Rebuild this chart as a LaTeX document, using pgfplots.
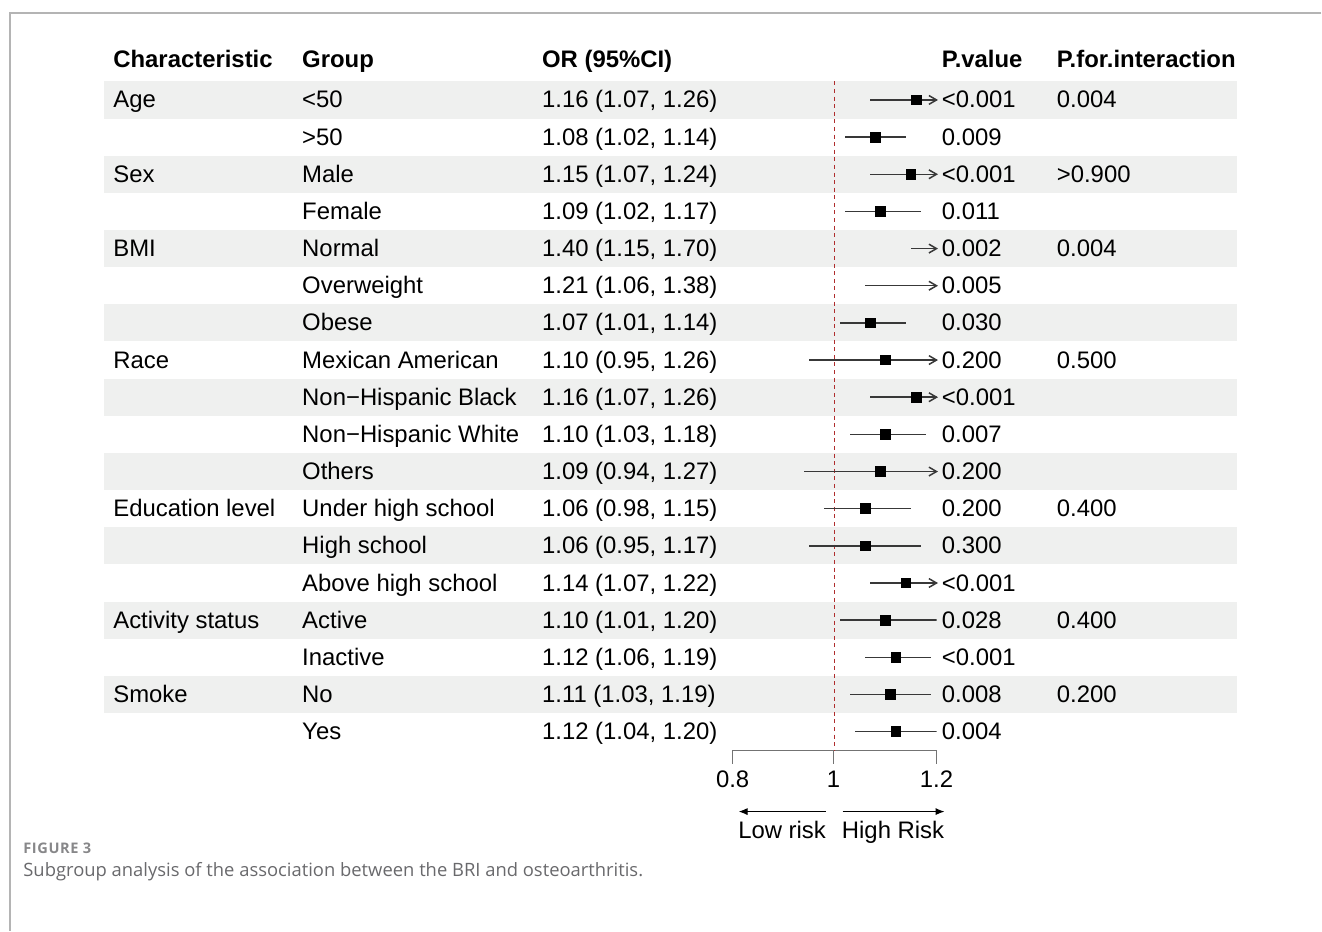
\documentclass[border=0pt]{standalone}
\usepackage{pgfplots}
\pgfplotsset{compat=1.18}
\usepackage{pgfplotstable}
\usetikzlibrary{arrows.meta}
\usepackage{fontspec}
\setmainfont{Liberation Sans}
\newfontfamily\capfont{Open Sans}
\newfontfamily\capfontsp[LetterSpace=4]{Open Sans}
\definecolor{band}{RGB}{239,240,239}
\definecolor{refred}{RGB}{175,45,45}
\definecolor{framegray}{RGB}{180,180,180}
\definecolor{capgray}{RGB}{105,105,108}

\pgfplotstableread{
row or lo hi
1 1.16 1.07 1.26
2 1.08 1.02 1.14
3 1.15 1.07 1.24
4 1.09 1.02 1.17
5 1.40 1.15 1.70
6 1.21 1.06 1.38
7 1.07 1.01 1.14
8 1.10 0.95 1.26
9 1.16 1.07 1.26
10 1.10 1.03 1.18
11 1.09 0.94 1.27
12 1.06 0.98 1.15
13 1.06 0.95 1.17
14 1.14 1.07 1.22
15 1.10 1.01 1.20
16 1.12 1.06 1.19
17 1.11 1.03 1.19
18 1.12 1.04 1.20
}\fdata

\pgfdeclareplotmark{chev}{%
  \pgfpathmoveto{\pgfpoint{-3.8pt}{2.2pt}}%
  \pgfpathlineto{\pgfpoint{0pt}{0pt}}%
  \pgfpathlineto{\pgfpoint{-3.8pt}{-2.2pt}}%
  \pgfusepathqstroke}

\newcommand\rowtext[6]{%
  \pgfmathsetmacro\yb{108+(#1-1)*37.18}%
  \node[anchor=base west,inner sep=0] at (113,\yb) {#2};
  \node[anchor=base west,inner sep=0] at (302,\yb) {#3};
  \node[anchor=base west,inner sep=0] at (542,\yb) {#4};
  \node[anchor=base west,inner sep=0] at (942,\yb) {#5};
  \node[anchor=base west,inner sep=0] at (1057,\yb) {#6};
}

\begin{document}
\begin{tikzpicture}[font=\fontsize{11.95}{14}\selectfont]
\begin{scope}[x=0.5pt,y=-0.5pt]
  \path (0,0) rectangle (1322,931);
  \draw[framegray, line width=0.7pt] (1322,13) -- (10,13) -- (10,931);
  \foreach \i in {1,3,...,17}{
    \fill[band] (104,{100+(\i-1)*37.18-18.59}) rectangle (1238,{100+(\i-1)*37.18+18.59});
  }
  % header
  \node[anchor=base west,inner sep=0,font=\fontsize{11.95}{14}\selectfont\bfseries] at (113,68) {Characteristic};
  \node[anchor=base west,inner sep=0,font=\fontsize{11.95}{14}\selectfont\bfseries] at (302,68) {Group};
  \node[anchor=base west,inner sep=0,font=\fontsize{11.95}{14}\selectfont\bfseries] at (542,68) {OR (95\%CI)};
  \node[anchor=base west,inner sep=0,font=\fontsize{11.95}{14}\selectfont\bfseries] at (942,68) {P.value};
  \node[anchor=base west,inner sep=0,font=\fontsize{11.95}{14}\selectfont\bfseries] at (1057,68) {P.for.interaction};
  % rows
  \rowtext{1}{Age}{<50}{1.16 (1.07, 1.26)}{<0.001}{0.004}
  \rowtext{2}{}{>50}{1.08 (1.02, 1.14)}{0.009}{}
  \rowtext{3}{Sex}{Male}{1.15 (1.07, 1.24)}{<0.001}{>0.900}
  \rowtext{4}{}{Female}{1.09 (1.02, 1.17)}{0.011}{}
  \rowtext{5}{BMI}{Normal}{1.40 (1.15, 1.70)}{0.002}{0.004}
  \rowtext{6}{}{Overweight}{1.21 (1.06, 1.38)}{0.005}{}
  \rowtext{7}{}{Obese}{1.07 (1.01, 1.14)}{0.030}{}
  \rowtext{8}{Race}{Mexican American}{1.10 (0.95, 1.26)}{0.200}{0.500}
  \rowtext{9}{}{Non−Hispanic Black}{1.16 (1.07, 1.26)}{<0.001}{}
  \rowtext{10}{}{Non−Hispanic White}{1.10 (1.03, 1.18)}{0.007}{}
  \rowtext{11}{}{Others}{1.09 (0.94, 1.27)}{0.200}{}
  \rowtext{12}{Education level}{Under high school}{1.06 (0.98, 1.15)}{0.200}{0.400}
  \rowtext{13}{}{High school}{1.06 (0.95, 1.17)}{0.300}{}
  \rowtext{14}{}{Above high school}{1.14 (1.07, 1.22)}{<0.001}{}
  \rowtext{15}{Activity status}{Active}{1.10 (1.01, 1.20)}{0.028}{0.400}
  \rowtext{16}{}{Inactive}{1.12 (1.06, 1.19)}{<0.001}{}
  \rowtext{17}{Smoke}{No}{1.11 (1.03, 1.19)}{0.008}{0.200}
  \rowtext{18}{}{Yes}{1.12 (1.04, 1.20)}{0.004}{}
  % x axis bracket
  \draw[black!55, line width=0.6pt] (733,764) -- (733,750.6) -- (937,750.6) -- (937,764);
  \draw[black!55, line width=0.6pt] (834,750.6) -- (834,764);
  \node[anchor=base,inner sep=0] at (733,788) {0.8};
  \node[anchor=base,inner sep=0] at (834,788) {1};
  \node[anchor=base,inner sep=0] at (937,788) {1.2};
  \draw[-{Latex[length=4.5pt,width=3.6pt]}, line width=0.6pt] (826,812) -- (739,812);
  \draw[-{Latex[length=4.5pt,width=3.6pt]}, line width=0.6pt] (843,812) -- (945,812);
  \node[anchor=base,inner sep=0] at (782.5,839) {Low risk};
  \node[anchor=base,inner sep=0] at (893.5,839) {High Risk};
  % caption
  \node[anchor=base west,inner sep=0,font=\capfontsp\fontsize{7.3}{8}\selectfont\bfseries,color=capgray!80] at (23,854) {FIGURE 3};
  \node[anchor=base west,inner sep=0,font=\capfont\fontsize{9.2}{10}\selectfont,color=capgray] at (23,877) {Subgroup analysis of the association between the BRI and osteoarthritis.};
\end{scope}

\begin{axis}[
  at={(366.5pt,-375.3pt)}, anchor=south west,
  scale only axis, width=102pt, height=334.6pt,
  xmin=0.8, xmax=1.2, ymin=0.5, ymax=18.5, y dir=reverse,
  hide axis, clip=true,
]
  \addplot[refred, dash pattern=on 2pt off 1.8pt, line width=0.6pt] coordinates {(1,0.5) (1,18.5)};
  \addplot[draw=none, mark=none,
    error bars/.cd, x dir=both, x explicit, error mark=none,
    error bar style={draw=black!78, line width=0.75pt, solid}]
    table[x=or, y=row, x error plus expr=\thisrow{hi}-\thisrow{or}, x error minus expr=\thisrow{or}-\thisrow{lo}] {\fdata};
  \addplot[only marks, mark=square*, mark size=2.4pt, black, restrict x to domain=0.5:1.2] table[x=or, y=row] {\fdata};
  \addplot[only marks, mark=chev, draw=black!78, mark options={line width=0.75pt, solid}] coordinates {(1.2,1) (1.2,3) (1.2,5) (1.2,6) (1.2,8) (1.2,9) (1.2,11) (1.2,14)};
\end{axis}
\end{tikzpicture}
\end{document}
